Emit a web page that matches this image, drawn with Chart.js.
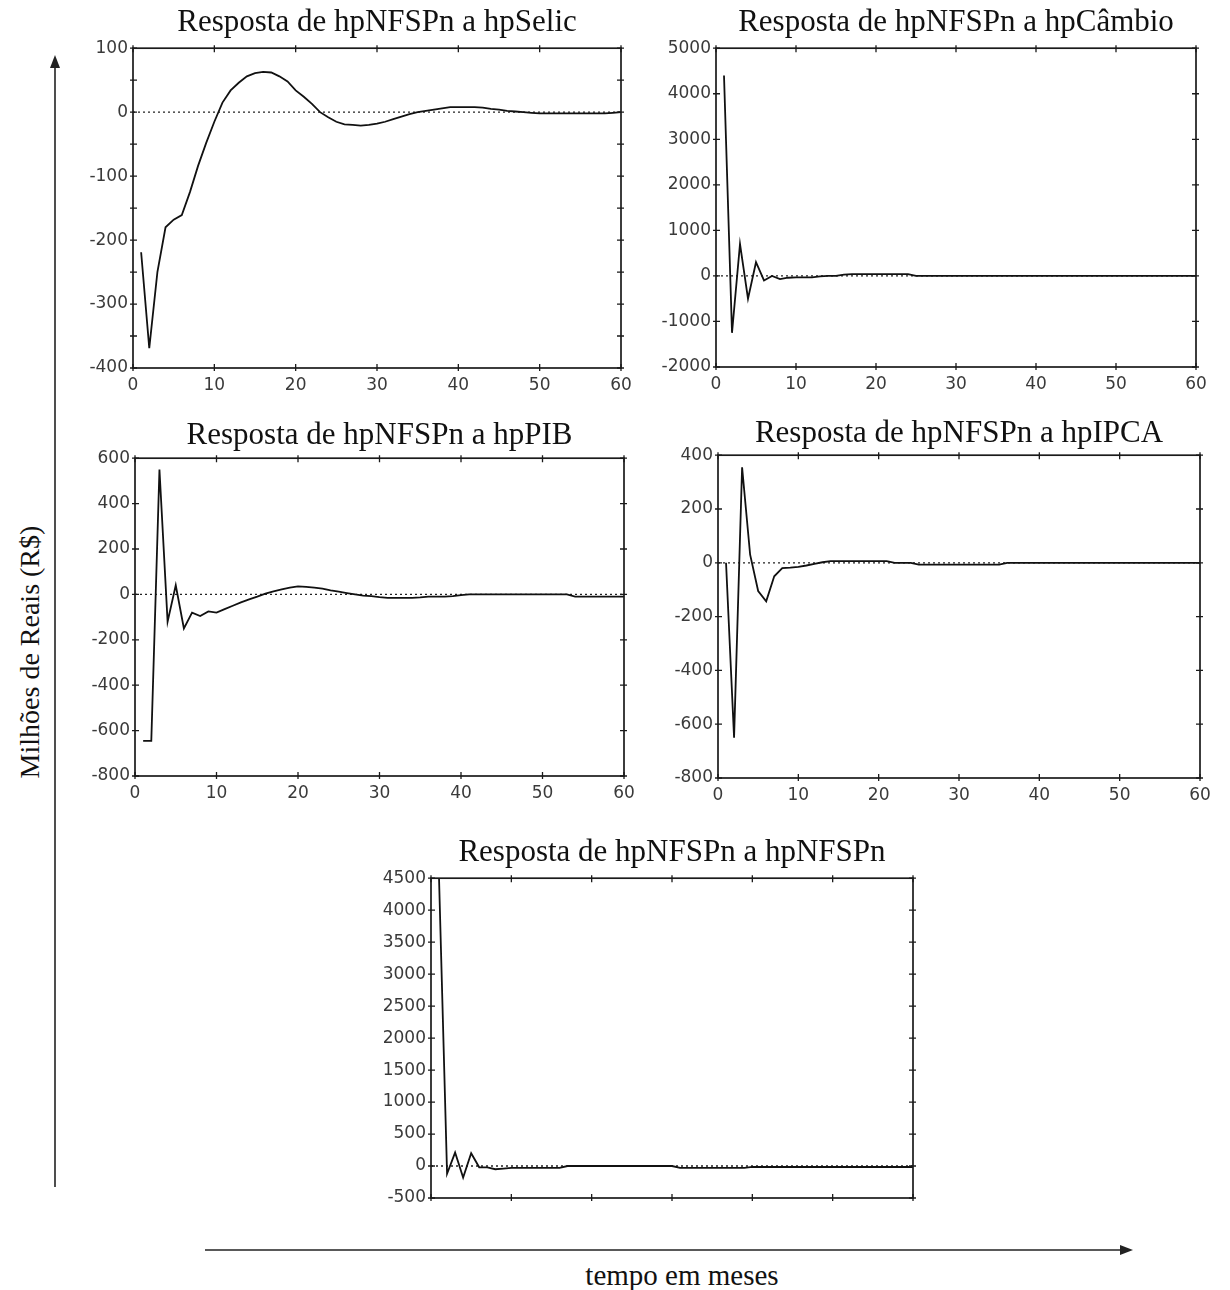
<!DOCTYPE html>
<html><head><meta charset="utf-8">
<script src="https://cdn.jsdelivr.net/npm/chart.js@4.4.1/dist/chart.umd.min.js"></script>
<style>
html,body{margin:0;padding:0;background:#fff;width:1230px;height:1290px;overflow:hidden;position:relative;}
canvas{position:absolute;}
#ylab{position:absolute;left:-170px;top:636px;width:400px;text-align:center;font-family:"Liberation Serif",serif;font-size:28px;line-height:32px;color:#111;transform:rotate(-90deg);transform-origin:center center;}
#xlab{position:absolute;left:482px;top:1258px;width:400px;text-align:center;font-family:"Liberation Serif",serif;font-size:29px;line-height:34px;color:#111;}
svg{position:absolute;left:0;top:0;}
</style></head><body>
<svg width="1230" height="1290">
  <line x1="55" y1="1187" x2="55" y2="66" stroke="#222" stroke-width="1.6"/>
  <polygon points="55,55 50,68 60,68" fill="#222"/>
  <line x1="205" y1="1250" x2="1122" y2="1250" stroke="#222" stroke-width="1.6"/>
  <polygon points="1133,1250 1120,1245 1120,1255" fill="#222"/>
</svg>
<div id="ylab">Milhões de Reais (R$)</div>
<div id="xlab">tempo em meses</div>
<script>
// ---- data ----
const months = [1,2,3,4,5,6,7,8,9,10,11,12,13,14,15,16,17,18,19,20,21,22,23,24,25,26,27,28,29,30,31,32,33,34,35,36,37,38,39,40,41,42,43,44,45,46,47,48,49,50,51,52,53,54,55,56,57,58,59,60];
const zeroLineX = [0, 60];
const xTickValues = [0, 10, 20, 30, 40, 50, 60];

const titles = [
  "Resposta de hpNFSPn a hpSelic",
  "Resposta de hpNFSPn a hpCâmbio",
  "Resposta de hpNFSPn a hpPIB",
  "Resposta de hpNFSPn a hpIPCA",
  "Resposta de hpNFSPn a hpNFSPn"
];

const respSelic = [-219,-369,-250,-180,-168,-161,-125,-84,-48,-15,15,34,46,56,61,63,62,56,48,34,24,13,0,-8,-15,-19,-20,-21,-20,-18,-15,-11,-7,-3,0,2,4,6,8,8,8,8,7,5,4,2,1,0,-1,-2,-2,-2,-2,-2,-2,-2,-2,-2,-1,0];
const respCambio = [4400,-1250,700,-500,300,-100,0,-70,-40,-30,-30,-30,-10,0,0,30,40,40,40,40,40,40,40,40,0,0,0,0,0,0,0,0,0,0,0,0,0,0,0,0,0,0,0,0,0,0,0,0,0,0,0,0,0,0,0,0,0,0,0,0];
const respPIB = [-645,-645,550,-120,40,-150,-80,-95,-75,-80,-65,-50,-35,-22,-10,3,13,22,30,35,33,30,25,18,12,6,0,-5,-8,-12,-15,-15,-15,-15,-13,-10,-10,-10,-8,-3,0,0,0,0,0,0,0,0,0,0,0,0,0,-10,-10,-10,-10,-10,-10,-10];
const respIPCA = [0,-650,355,30,-105,-143,-50,-20,-18,-15,-10,-4,2,6,6,6,6,6,6,6,6,0,0,0,-7,-7,-7,-7,-7,-7,-7,-7,-7,-7,-7,0,0,0,0,0,0,0,0,0,0,0,0,0,0,0,0,0,0,0,0,0,0,0,0,0];
const respNFSPn = [4500,-120,210,-180,200,-20,-20,-50,-40,-30,-30,-30,-30,-30,-30,-30,0,0,0,0,0,0,0,0,0,0,0,0,0,0,-30,-30,-30,-30,-30,-30,-30,-30,-30,-15,-15,-15,-15,-15,-15,-15,-15,-15,-15,-15,-15,-15,-15,-15,-15,-15,-15,-15,-15,-15];

const yRanges = [[-400,100],[-2000,5000],[-800,600],[-800,400],[-500,4500]];
const yLabelSteps = [100, 1000, 200, 200, 500];
const yMarkSteps = [50, 1000, 200, 200, 500];

// ---- layout (plot-area boxes in page pixels) ----
const boxes = [
  {l:133, t:48,  r:621,  b:368, xl:true,  tp:7},
  {l:716, t:48,  r:1196, b:367, xl:true,  tp:7},
  {l:135, t:458, r:624,  b:776, xl:true,  tp:4},
  {l:718, t:455, r:1200, b:778, xl:true,  tp:3},
  {l:431, t:878, r:913,  b:1198, xl:false, tp:7}
];
const series = [respSelic, respCambio, respPIB, respIPCA, respNFSPn];

const YW = 84, XH = 36, PR = 20, TFS = 31;

const frameTicks = {
  id: 'frameTicks',
  afterDatasetsDraw(chart, args, opts) {
    const {ctx, chartArea: a, scales: {x, y}} = chart;
    ctx.save();
    ctx.strokeStyle = '#1a1a1a';
    ctx.lineWidth = 1.7;
    ctx.strokeRect(a.left, a.top, a.right - a.left, a.bottom - a.top);
    ctx.lineWidth = 1.3;
    ctx.beginPath();
    const n = Math.round((y.max - y.min) / opts.step);
    for (let i = 0; i <= n; i++) {
      const py = y.getPixelForValue(y.min + i * opts.step);
      ctx.moveTo(a.left - 3, py); ctx.lineTo(a.left + 4, py);
      ctx.moveTo(a.right + 3, py); ctx.lineTo(a.right - 4, py);
    }
    xTickValues.forEach(v => {
      const px = x.getPixelForValue(v);
      ctx.moveTo(px, a.bottom + 3); ctx.lineTo(px, a.bottom - 4);
      ctx.moveTo(px, a.top - 3); ctx.lineTo(px, a.top + 4);
    });
    ctx.stroke();
    ctx.restore();
  }
};

boxes.forEach((bx, i) => {
  const TH = TFS * 1.2 + bx.tp;
  const cv = document.createElement('canvas');
  const w = (bx.r - bx.l) + YW + PR;
  const h = Math.round(TH + (bx.b - bx.t) + XH);
  cv.width = w; cv.height = h;
  cv.style.left = (bx.l - YW) + 'px';
  cv.style.top = Math.round(bx.t - TH) + 'px';
  cv.style.width = w + 'px'; cv.style.height = h + 'px';
  document.body.appendChild(cv);
  const vals = series[i];
  new Chart(cv, {
    type: 'line',
    data: {
      datasets: [
        {
          data: months.map((m, k) => ({x: m, y: vals[k]})),
          borderColor: '#111', borderWidth: 1.8, pointRadius: 0, tension: 0, order: 0
        },
        {
          data: zeroLineX.map(v => ({x: v, y: 0})),
          borderColor: '#222', borderWidth: 1.3, borderDash: [2, 3], pointRadius: 0, order: 1
        }
      ]
    },
    options: {
      responsive: false, animation: false, devicePixelRatio: 1,
      layout: {padding: {left: 0, right: PR, top: 0, bottom: 0}},
      plugins: {
        legend: {display: false}, tooltip: {enabled: false},
        title: {display: true, text: titles[i], fullSize: false, color: '#111',
          font: {family: 'Liberation Serif', size: TFS, weight: 'normal', lineHeight: 1.2},
          padding: {top: 0, bottom: bx.tp}},
        frameTicks: {step: yMarkSteps[i]}
      },
      scales: {
        x: {
          type: 'linear', min: 0, max: 60,
          grid: {display: false, drawTicks: false}, border: {display: false},
          afterFit: s => { s.height = XH; },
          afterBuildTicks: s => { s.ticks = xTickValues.map(v => ({value: v})); },
          ticks: {display: bx.xl, padding: 7, color: '#3a3a3a', font: {family: 'DejaVu Sans', size: 17},
            callback: v => String(v)}
        },
        y: {
          min: yRanges[i][0], max: yRanges[i][1],
          grid: {display: false, drawTicks: false}, border: {display: false},
          afterFit: s => { s.width = YW; },
          ticks: {stepSize: yLabelSteps[i], padding: 5, color: '#3a3a3a', font: {family: 'DejaVu Sans', size: 17},
            callback: v => String(v)}
        }
      }
    },
    plugins: [frameTicks]
  });
});
</script>
</body></html>
